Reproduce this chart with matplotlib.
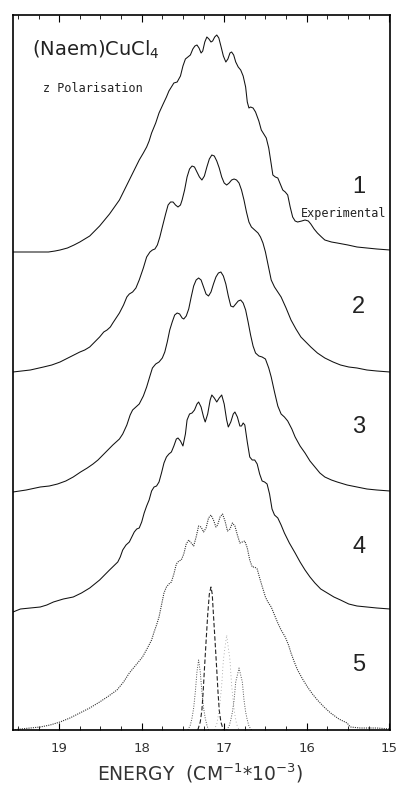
import matplotlib.pyplot as plt
from matplotlib.ticker import MultipleLocator

# energy in 10^3 cm^-1, intensity in arbitrary units above each trace's own baseline
exp_energy = [19.56, 19.13, 19.05, 18.99, 18.90, 18.82, 18.75, 18.69, 18.63, 18.57, 18.51, 18.45,
              18.39, 18.33, 18.27, 18.21, 18.15, 18.09, 18.03, 17.98, 17.94, 17.91, 17.88, 17.83,
              17.79, 17.74, 17.70, 17.67, 17.64, 17.61, 17.57, 17.53, 17.50, 17.47, 17.44, 17.41,
              17.38, 17.355, 17.33, 17.305, 17.28, 17.26, 17.235, 17.21, 17.185, 17.16, 17.14, 17.115,
              17.09, 17.065, 17.04, 17.01, 16.98, 16.955, 16.93, 16.91, 16.885, 16.86, 16.83, 16.80,
              16.77, 16.74, 16.72, 16.70, 16.68, 16.65, 16.62, 16.58, 16.55, 16.52, 16.49, 16.46,
              16.43, 16.41, 16.38, 16.35, 16.32, 16.29, 16.26, 16.23, 16.20, 16.17, 16.14, 16.11,
              16.06, 16.02, 15.98, 15.95, 15.91, 15.87, 15.82, 15.78, 15.70, 15.63, 15.50, 15.39,
              15.27, 15.15, 14.99]
exp_intensity = [0, 0, 1, 2, 4, 7, 10, 13, 16, 21, 26, 32,
                 38, 45, 52, 62, 72, 82, 92, 99, 105, 111, 119, 129,
                 139, 148, 155, 161, 165, 169, 170, 176, 186, 193, 195, 197,
                 203, 206, 207, 204, 199, 201, 210, 215, 213, 210, 211, 215,
                 217, 214, 206, 196, 190, 193, 199, 200, 197, 190, 185, 182,
                 176, 165, 150, 144, 145, 144, 140, 131, 122, 118, 114, 104,
                 88, 77, 75, 74, 68, 62, 60, 57, 45, 35, 31, 30,
                 31, 32, 31, 28, 23, 19, 15, 12, 10, 9, 7, 5,
                 4, 3, 2]

fit2_energy = [19.56, 19.35, 19.19, 19.09, 18.99, 18.87, 18.75, 18.69, 18.63, 18.57, 18.51, 18.46,
               18.42, 18.38, 18.35, 18.31, 18.27, 18.22, 18.18, 18.15, 18.11, 18.07, 18.03, 17.98,
               17.94, 17.90, 17.87, 17.84, 17.81, 17.78, 17.75, 17.71, 17.68, 17.65, 17.62, 17.59,
               17.56, 17.53, 17.51, 17.48, 17.45, 17.42, 17.39, 17.36, 17.33, 17.30, 17.27, 17.24,
               17.21, 17.18, 17.15, 17.12, 17.09, 17.06, 17.03, 17.00, 16.97, 16.94, 16.91, 16.88,
               16.85, 16.82, 16.79, 16.76, 16.73, 16.70, 16.67, 16.63, 16.59, 16.56, 16.53, 16.50,
               16.46, 16.43, 16.39, 16.35, 16.31, 16.25, 16.19, 16.13, 16.07, 16.01, 15.95, 15.87,
               15.78, 15.68, 15.59, 15.49, 15.39, 15.27, 15.15, 14.99]
fit2_intensity = [0, 2, 5, 7, 10, 15, 20, 22, 25, 30, 35, 40,
                  42, 45, 49, 54, 59, 67, 75, 78, 80, 84, 92, 104,
                  115, 120, 122, 123, 127, 135, 145, 158, 167, 170, 170, 167,
                  165, 167, 172, 182, 195, 203, 206, 205, 200, 195, 192, 196,
                  205, 213, 217, 216, 211, 204, 195, 189, 187, 189, 192, 193,
                  192, 189, 182, 172, 160, 150, 145, 142, 139, 135, 129, 120,
                  104, 92, 85, 80, 75, 64, 52, 43, 35, 30, 25, 19,
                  14, 10, 7, 5, 4, 2, 1, 0]

fit3_energy = [19.56, 19.40, 19.23, 19.12, 19.02, 18.92, 18.83, 18.74, 18.66, 18.59, 18.53, 18.47,
               18.41, 18.35, 18.31, 18.27, 18.23, 18.18, 18.14, 18.11, 18.07, 18.03, 17.98, 17.94,
               17.90, 17.87, 17.83, 17.79, 17.75, 17.72, 17.69, 17.66, 17.63, 17.60, 17.57, 17.54,
               17.51, 17.49, 17.46, 17.43, 17.40, 17.37, 17.34, 17.31, 17.28, 17.25, 17.22, 17.19,
               17.16, 17.13, 17.10, 17.07, 17.04, 17.01, 16.98, 16.95, 16.92, 16.89, 16.86, 16.83,
               16.80, 16.77, 16.74, 16.71, 16.68, 16.65, 16.62, 16.58, 16.54, 16.50, 16.46, 16.43,
               16.39, 16.35, 16.31, 16.27, 16.23, 16.18, 16.14, 16.08, 16.02, 15.96, 15.90, 15.84,
               15.78, 15.70, 15.63, 15.51, 15.39, 15.27, 15.15, 14.99]
fit3_intensity = [0, 2, 5, 6, 8, 11, 15, 20, 24, 28, 32, 37,
                  42, 47, 50, 53, 58, 67, 77, 82, 85, 88, 96, 105,
                  116, 124, 128, 130, 134, 140, 150, 162, 170, 177, 179, 178,
                  174, 173, 176, 183, 195, 206, 212, 214, 212, 205, 198, 196,
                  200, 208, 215, 219, 220, 216, 208, 196, 186, 185, 188, 191,
                  192, 189, 182, 170, 157, 146, 139, 136, 135, 133, 124, 115,
                  100, 86, 78, 75, 71, 63, 55, 46, 39, 31, 25, 19,
                  15, 12, 10, 7, 5, 3, 2, 1]

fit4_energy = [19.56, 19.47, 19.35, 19.23, 19.15, 19.07, 18.95, 18.83, 18.73, 18.63, 18.57, 18.51,
               18.45, 18.39, 18.34, 18.29, 18.26, 18.23, 18.19, 18.15, 18.12, 18.09, 18.06, 18.03,
               18.00, 17.97, 17.94, 17.91, 17.88, 17.85, 17.82, 17.79, 17.76, 17.73, 17.70, 17.67,
               17.64, 17.61, 17.58, 17.56, 17.53, 17.50, 17.47, 17.45, 17.42, 17.39, 17.36, 17.33,
               17.31, 17.28, 17.25, 17.23, 17.20, 17.17, 17.15, 17.12, 17.09, 17.06, 17.03, 17.00,
               16.97, 16.95, 16.92, 16.89, 16.87, 16.84, 16.81, 16.79, 16.77, 16.75, 16.72, 16.69,
               16.66, 16.63, 16.60, 16.57, 16.54, 16.51, 16.48, 16.45, 16.42, 16.39, 16.35, 16.31,
               16.27, 16.21, 16.14, 16.08, 16.02, 15.96, 15.90, 15.83, 15.75, 15.67, 15.59, 15.49,
               15.39, 15.27, 15.15, 14.99]
fit4_intensity = [0, 3, 4, 5, 7, 10, 13, 15, 19, 24, 28, 32,
                  37, 42, 46, 50, 55, 62, 67, 70, 75, 80, 83, 84,
                  90, 99, 106, 112, 121, 125, 126, 130, 139, 149, 155, 158,
                  160, 166, 173, 174, 171, 166, 178, 192, 198, 199, 202, 208,
                  210, 205, 195, 190, 198, 212, 217, 214, 210, 214, 217, 208,
                  192, 185, 190, 198, 200, 195, 186, 186, 189, 187, 170, 155,
                  152, 152, 148, 138, 131, 130, 128, 118, 103, 97, 94, 87,
                  79, 69, 59, 50, 42, 35, 29, 23, 19, 15, 12, 8,
                  6, 5, 4, 3]

fit5_energy = [19.56, 19.47, 19.35, 19.23, 19.11, 18.99, 18.87, 18.75, 18.63, 18.51, 18.40, 18.30,
               18.22, 18.15, 18.07, 17.99, 17.93, 17.88, 17.85, 17.82, 17.79, 17.76, 17.73, 17.70,
               17.67, 17.64, 17.61, 17.58, 17.55, 17.52, 17.49, 17.46, 17.43, 17.40, 17.37, 17.34,
               17.31, 17.28, 17.25, 17.22, 17.19, 17.16, 17.13, 17.10, 17.08, 17.05, 17.02, 16.99,
               16.96, 16.93, 16.90, 16.87, 16.84, 16.81, 16.78, 16.75, 16.72, 16.69, 16.66, 16.63,
               16.60, 16.57, 16.53, 16.50, 16.47, 16.43, 16.39, 16.35, 16.31, 16.26, 16.22, 16.19,
               16.15, 16.11, 16.05, 15.99, 15.93, 15.87, 15.79, 15.71, 15.61, 15.51, 15.47, 15.35,
               15.15, 14.99]
fit5_intensity = [0, 1, 2, 3, 5, 8, 12, 17, 22, 28, 34, 40,
                  48, 57, 65, 73, 82, 90, 98, 105, 113, 125, 137, 143,
                  146, 148, 156, 166, 169, 170, 176, 186, 190, 187, 184, 193,
                  204, 203, 198, 202, 212, 215, 210, 203, 205, 213, 216, 209,
                  199, 201, 207, 204, 195, 187, 188, 189, 182, 170, 163, 163,
                  161, 152, 141, 133, 128, 123, 115, 107, 100, 93, 85, 77,
                  68, 60, 51, 43, 36, 30, 23, 17, 11, 7, 3, 2,
                  2, 1]

# Gaussian components drawn under trace 5
comp_a_energy = [17.44, 17.41, 17.39, 17.37, 17.35, 17.33, 17.31, 17.29, 17.27, 17.25, 17.23, 17.21, 17.19]
comp_a_intensity = [0, 5, 12, 22, 38, 58, 70, 58, 38, 22, 12, 5, 0]
comp_b_energy = [17.32, 17.29, 17.27, 17.255, 17.24, 17.22, 17.20, 17.18, 17.16, 17.145, 17.13,
                 17.11, 17.09, 17.075, 17.06, 17.04, 17.01]
comp_b_intensity = [0, 8, 20, 38, 60, 88, 115, 136, 143, 136, 115, 88, 60, 38, 20, 8, 0]
comp_c_energy = [17.12, 17.09, 17.07, 17.05, 17.03, 17.01, 16.97, 16.93, 16.91, 16.89, 16.87, 16.85, 16.82]
comp_c_intensity = [0, 6, 15, 28, 45, 70, 95, 70, 45, 28, 15, 6, 0]
comp_d_energy = [16.97, 16.94, 16.92, 16.90, 16.88, 16.86, 16.82, 16.78, 16.76, 16.74, 16.72, 16.70, 16.67]
comp_d_intensity = [0, 4, 10, 18, 30, 48, 62, 48, 30, 18, 10, 4, 0]

trace_labels = ["1", "2", "3", "4", "5"]
offsets = [478, 358, 238, 118, 0]

fig = plt.figure(figsize=(4.01, 7.88), dpi=100)
ax = fig.add_axes([13 / 401, 58 / 788, 377 / 401, 715 / 788])

traces = [(exp_energy, exp_intensity), (fit2_energy, fit2_intensity),
          (fit3_energy, fit3_intensity), (fit4_energy, fit4_intensity)]
for (e, i), off in zip(traces, offsets):
    ax.plot(e, [v + off for v in i], color="#111111", lw=0.75)

ax.plot(fit5_energy, fit5_intensity, color="#333333", lw=0.8, ls=(0, (1, 1)))
ax.plot(comp_a_energy, comp_a_intensity, color="#555555", lw=0.7, ls=(0, (1, 1.5)))
ax.plot(comp_b_energy, comp_b_intensity, color="#222222", lw=0.8, ls=(0, (4, 2)))
ax.plot(comp_c_energy, comp_c_intensity, color="#999999", lw=0.6, ls=(0, (1, 3)))
ax.plot(comp_d_energy, comp_d_intensity, color="#555555", lw=0.7, ls=(0, (1, 1.5)))

for lab, off in zip(trace_labels, offsets):
    ax.text(15.37, off + 65, lab, fontsize=17, color="#222222", ha="center", va="center",
            family="Liberation Sans")

ax.text(16.07, 517, "Experimental", fontsize=8.5, color="#222222", va="center",
        family="DejaVu Sans Mono")
ax.text(19.33, 680, "(Naem)CuCl$_4$", fontsize=14, color="#222222", va="center")
ax.text(19.2, 642, "z Polarisation", fontsize=8.5, color="#222222", va="center",
        family="DejaVu Sans Mono")

ax.set_xlim(19.56, 14.99)
ax.set_ylim(0, 715)
ax.xaxis.set_major_locator(MultipleLocator(1))
ax.xaxis.set_minor_locator(MultipleLocator(0.25))
ax.tick_params(axis="x", which="both", direction="in", top=True, labelsize=9.5,
               labelcolor="#333333", pad=9)
ax.tick_params(axis="x", which="major", length=5)
ax.tick_params(axis="x", which="minor", length=3)
ax.set_yticks([])
for s in ax.spines.values():
    s.set_linewidth(1.2)

fig.text(0.5, 1 - 773 / 788, "ENERGY  (CM$^{-1}$$*$10$^{-3}$)", ha="center", va="center",
         fontsize=13.5, color="#333333")

fig.savefig("out.png", dpi=100)
